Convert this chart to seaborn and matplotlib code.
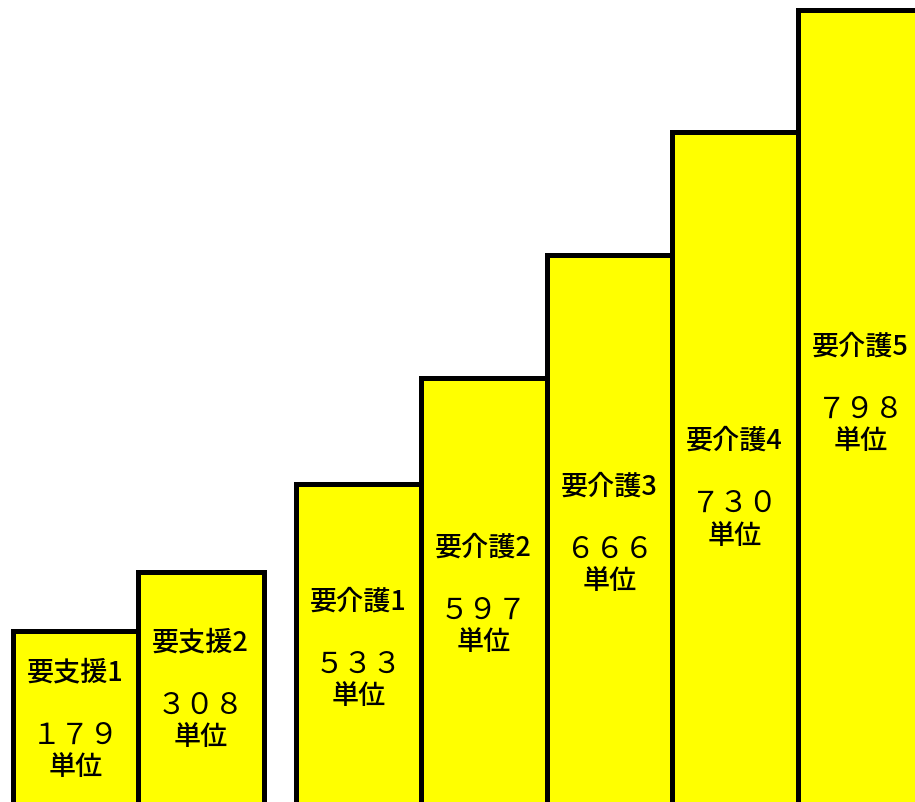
import pandas as pd
import seaborn as sns
import matplotlib.pyplot as plt

levels = ["要支援1", "要支援2", "要介護1", "要介護2", "要介護3", "要介護4", "要介護5"]
units = ["１７９", "３０８", "５３３", "５９７", "６６６", "７３０", "７９８"]
# drawn step heights (the bars are not to scale with the unit values)
heights = [181, 240, 328, 434, 557, 680, 802]

# layout: label rows in pixels from the top of the image
label_rows = [673, 643, 602, 548, 487, 441, 347]
gap = 0.255  # space between the 要支援 and 要介護 groups

sns.set_theme(style="white")
plt.rcParams["font.family"] = ["Noto Sans CJK JP", "DejaVu Sans"]
plt.rcParams["text.color"] = "black"

df = pd.DataFrame({"level": levels, "height": heights})

fig = plt.figure(figsize=(9.15, 8.03), dpi=100)
ax = fig.add_axes([0, 0, 1, 1])
sns.barplot(data=df, x="level", y="height", color="#FFFF00", saturation=1,
            edgecolor="black", linewidth=3.6, width=1, ax=ax)

# push the 要介護 bars right to open the gap
for i, bar in enumerate(ax.patches):
    if i >= 2:
        bar.set_x(bar.get_x() + gap)

top = 813
for i, (lv, u, row) in enumerate(zip(levels, units, label_rows)):
    x = i + (gap if i >= 2 else 0)
    ax.text(x, top - row, lv, ha="center", va="center", fontsize=19.5,
            fontweight="medium", color="black")
    ax.text(x, top - row - 63, u, ha="center", va="center", fontsize=21,
            color="black")
    ax.text(x, top - row - 95, "単位", ha="center", va="center", fontsize=19.5,
            fontweight="medium", color="black")

left = -0.5 - 12.5 / 125.5
ax.set_xlim(left, left + 915 / 125.5)
ax.set_ylim(10, top)
ax.axis("off")

fig.savefig("out.png", dpi=100)
